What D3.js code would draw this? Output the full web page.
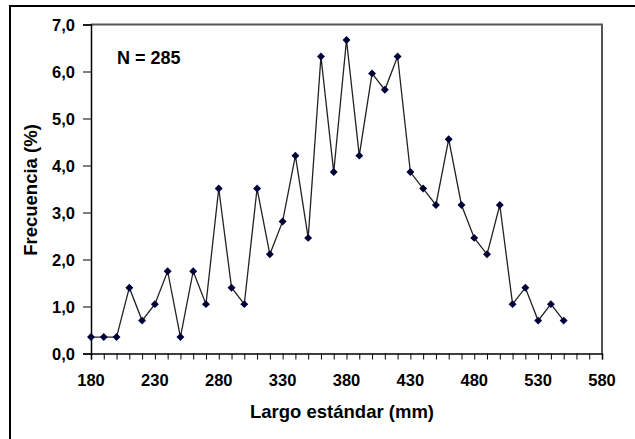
<!DOCTYPE html>
<html>
<head>
<meta charset="utf-8">
<script src="https://cdn.jsdelivr.net/npm/d3@7"></script>
<style>
  body { margin: 0; background: #fff; }
  svg text { font-family: "Liberation Sans", Arial, sans-serif; font-weight: bold; fill: #000; }
</style>
</head>
<body>
<svg width="635" height="439"></svg>
<script>
// largo estandar (mm) and frecuencia (%)
var largo = [180, 190, 200, 210, 220, 230, 240, 250, 260, 270,
             280, 290, 300, 310, 320, 330, 340, 350, 360, 370,
             380, 390, 400, 410, 420, 430, 440, 450, 460, 470,
             480, 490, 500, 510, 520, 530, 540, 550];
var frecuencia = [0.35, 0.35, 0.35, 1.40, 0.70, 1.05, 1.75, 0.35, 1.75, 1.05,
                  3.51, 1.40, 1.05, 3.51, 2.11, 2.81, 4.21, 2.46, 6.32, 3.86,
                  6.67, 4.21, 5.96, 5.61, 6.32, 3.86, 3.51, 3.16, 4.56, 3.16,
                  2.46, 2.11, 3.16, 1.05, 1.40, 0.70, 1.05, 0.70];
var xTicks = [180, 230, 280, 330, 380, 430, 480, 530, 580];
var yTicks = [0, 1, 2, 3, 4, 5, 6, 7];

var svg = d3.select("svg");
var margin = {left: 91, top: 24.5, right: 602, bottom: 353.5};

var x = d3.scaleLinear().domain([180, 580]).range([margin.left, margin.right]);
var y = d3.scaleLinear().domain([0, 7]).range([margin.bottom, margin.top]);
var fmt = function(d) { return d3.format(".1f")(d).replace(".", ","); };

// outer frame
svg.append("rect")
    .attr("x", 10).attr("y", 6)
    .attr("width", 640).attr("height", 450)
    .attr("fill", "none").attr("stroke", "#000").attr("stroke-width", 2);

// plot area border (top/right)
svg.append("path")
    .attr("d", "M" + margin.left + "," + margin.top + "H" + margin.right + "V" + margin.bottom)
    .attr("fill", "none").attr("stroke", "#555").attr("stroke-width", 2);

// x axis, minor ticks every 10 mm
var xAxis = svg.append("g")
    .attr("transform", "translate(0," + margin.bottom + ")")
    .call(d3.axisBottom(x).tickValues(d3.range(180, 581, 10)).tickSize(6).tickFormat(""));
xAxis.select(".domain").attr("stroke", "#000").attr("stroke-width", 1.5);
xAxis.selectAll(".tick line").attr("stroke", "#000");

svg.append("g").selectAll("text")
  .data(xTicks)
  .enter().append("text")
    .attr("x", function(d) { return x(d); })
    .attr("y", 386)
    .attr("text-anchor", "middle")
    .style("font-size", "16.5px")
    .text(function(d) { return d; });

var yAxis = svg.append("g")
    .attr("transform", "translate(" + margin.left + ",0)")
    .call(d3.axisLeft(y).tickValues(yTicks).tickSize(8).tickPadding(8).tickFormat(fmt));
yAxis.attr("font-family", null).attr("font-size", null);
yAxis.select(".domain").attr("stroke", "#000").attr("stroke-width", 1.5);
yAxis.selectAll(".tick line").attr("stroke", "#000");
yAxis.selectAll(".tick text")
    .style("font-size", "16.5px")
    .attr("dy", "0.36em");

// titles
svg.append("text")
    .attr("x", 342).attr("y", 418)
    .attr("text-anchor", "middle")
    .style("font-size", "18.5px")
    .text("Largo estándar (mm)");

svg.append("text")
    .attr("transform", "translate(37,190) rotate(-90)")
    .attr("text-anchor", "middle")
    .style("font-size", "18.5px")
    .text("Frecuencia (%)");

svg.append("text")
    .attr("x", 117).attr("y", 64)
    .style("font-size", "18px")
    .text("N = 285");

// line and markers
var pts = largo.map(function(d, i) { return {l: d, f: frecuencia[i]}; });

svg.append("path")
    .datum(pts)
    .attr("fill", "none")
    .attr("stroke", "#222")
    .attr("stroke-width", 1.3)
    .attr("d", d3.line()
      .x(function(d) { return x(d.l); })
      .y(function(d) { return y(d.f); }));

svg.append("g").selectAll("path")
  .data(pts)
  .enter().append("path")
    .attr("transform", function(d) { return "translate(" + x(d.l) + "," + y(d.f) + ")"; })
    .attr("d", d3.symbol().type(d3.symbolDiamond2).size(40))
    .attr("fill", "#000038");
</script>
</body>
</html>
